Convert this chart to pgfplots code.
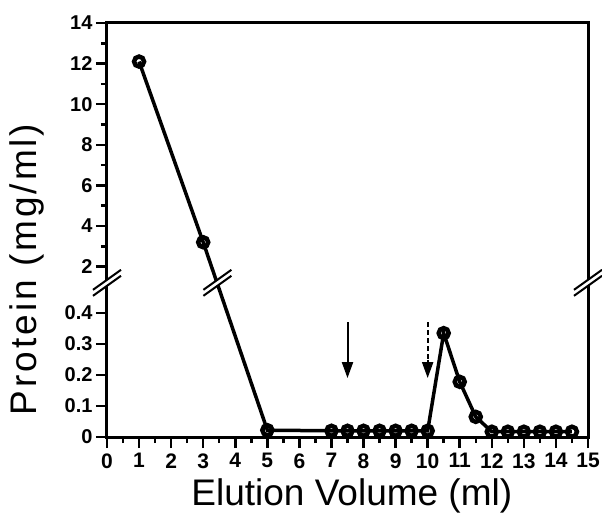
\documentclass[border=0pt]{standalone}
\usepackage{fontspec}
\setmainfont{Liberation Sans}
\usepackage{pgfplots}
\pgfplotsset{compat=1.18}
\usetikzlibrary{arrows.meta}

% broken y axis: 0..0.48 below the break, 1..14 above it
\pgfplotstableread{
x     y
1     12.1
3     3.2
5     0.022
7     0.02
7.5   0.02
8     0.02
8.5   0.02
9     0.02
9.5   0.02
10    0.02
10.5  0.335
11    0.178
11.5  0.065
12    0.017
12.5  0.017
13    0.017
13.5  0.017
14    0.017
14.5  0.017
}\elution

\newcommand{\brk}[1]{%
  \fill[white] ([shift={(-14pt,-12pt)}]#1) -- ([shift={(14pt,8pt)}]#1)
     -- ([shift={(14pt,14pt)}]#1) -- ([shift={(-14pt,-6pt)}]#1) -- cycle;
  \draw[line width=2pt] ([shift={(-14pt,-12pt)}]#1) -- ([shift={(14pt,8pt)}]#1);
  \draw[line width=2pt] ([shift={(-14pt,-6pt)}]#1) -- ([shift={(14pt,14pt)}]#1);
}

\begin{document}
\begin{tikzpicture}
\begin{axis}[
    scale only axis,
    width=481pt, height=414pt,
    xmin=0, xmax=15, ymin=0, ymax=14,
    y coord trafo/.code={\pgfmathparse{#1<0.75 ? 31*#1 : 12.98+2.03*#1}},
    y coord inv trafo/.code={\pgfmathparse{#1<15 ? #1/31 : (#1-12.98)/2.03}},
    xtick={0,1,...,15},
    minor xtick={0.5,1.5,...,14.5},
    ytick={0,0.1,0.2,0.3,0.4,2,4,6,8,10,12,14},
    yticklabels={0,0.1,0.2,0.3,0.4,2,4,6,8,10,12,14},
    minor ytick={3,5,7,9,11,13},
    tick align=outside,
    xtick pos=bottom, ytick pos=left,
    major tick length=11pt, minor tick length=6pt,
    every tick/.style={line width=2.5pt, black},
    axis line style={line width=3pt},
    /pgf/number format/assume math mode=true,
    yticklabel style={font=\fontsize{20}{22}\selectfont\bfseries},
    xticklabel style={font=\fontsize{21}{24}\selectfont\bfseries, yshift=-2pt},
    xlabel={Elution Volume (ml)},
    ylabel={Protein (mg/ml)},
    xlabel style={font=\fontsize{37}{40}\selectfont,
        at={([yshift=-68pt]rel axis cs:0.509,0)}, anchor=base},
    ylabel style={font=\fontsize{37}{40}\selectfont\addfontfeatures{LetterSpace=8},
        at={([xshift=-70pt]rel axis cs:0,0.405)}, anchor=base},
    clip=false,
]
\addplot[black, line width=3.5pt, mark=o, mark size=5pt,
         mark options={line width=4.5pt, fill=white}] table[x=x, y=y] {\elution};

\draw[line width=2pt, -{Triangle[width=11pt,length=16pt]}]
    (axis cs:7.5,0.37) -- (axis cs:7.5,0.19);
\draw[line width=2pt, dash pattern=on 5pt off 3pt]
    (axis cs:10,0.37) -- (axis cs:10,0.25);
\draw[line width=2pt, -{Triangle[width=11pt,length=16pt]}]
    (axis cs:10,0.25) -- (axis cs:10,0.19);

\coordinate (ll) at (rel axis cs:0,0);
\coordinate (ur) at (rel axis cs:1,1);
\coordinate (bl) at (rel axis cs:0,0.37);
\coordinate (br) at (rel axis cs:1,0.37);
\coordinate (bd) at (rel axis cs:0.2295,0.37);
\end{axis}
\brk{bl}
\brk{br}
\brk{bd}
\pgfresetboundingbox
\path[use as bounding box] ([shift={(-107pt,-77pt)}]ll) rectangle ([shift={(14pt,23pt)}]ur);
\end{tikzpicture}
\end{document}
